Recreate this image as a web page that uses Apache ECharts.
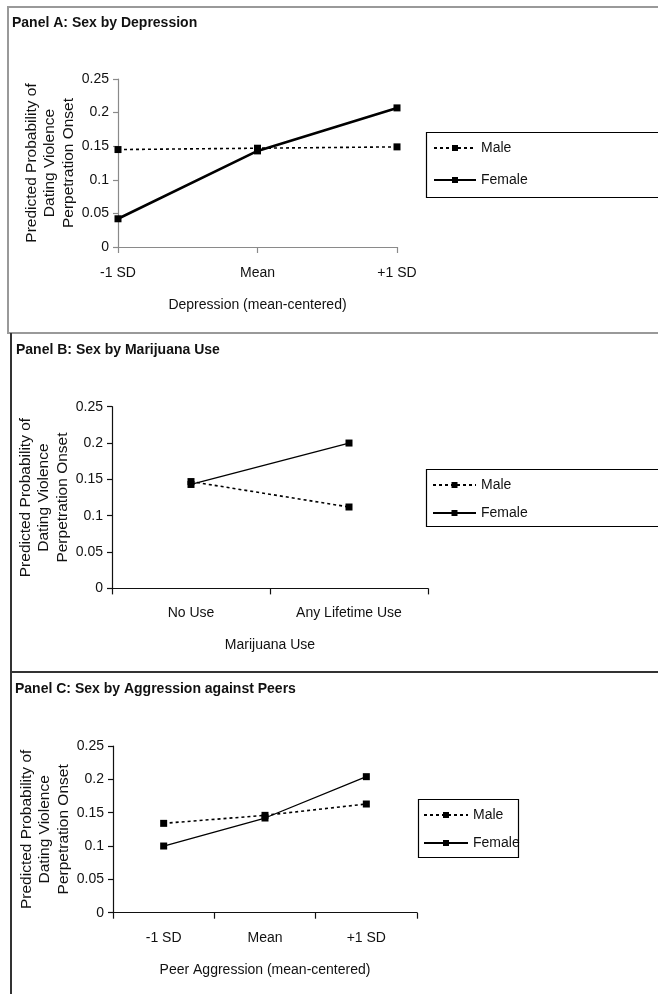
<!DOCTYPE html>
<html>
<head>
<meta charset="utf-8">
<style>
  html, body { margin: 0; padding: 0; background: #fff; }
  #chart { width: 658px; height: 994px; }
</style>
<script src="https://cdn.jsdelivr.net/npm/echarts@6/dist/echarts.min.js"></script>
</head>
<body>
<div id="chart"></div>
<script>
// ---------- data ----------
const categoriesA = ['-1 SD', 'Mean', '+1 SD'];
const maleA = [0.145, 0.147, 0.149];
const femaleA = [0.042, 0.143, 0.207];

const categoriesB = ['No Use', 'Any Lifetime Use'];
const maleB = [0.147, 0.112];
const femaleB = [0.143, 0.200];

const categoriesC = ['-1 SD', 'Mean', '+1 SD'];
const maleC = [0.134, 0.146, 0.163];
const femaleC = [0.100, 0.142, 0.204];

const yTickLabels = ['0', '0.05', '0.1', '0.15', '0.2', '0.25'];

const panelTitles = ['Panel A: Sex by Depression', 'Panel B: Sex by Marijuana Use', 'Panel C: Sex by Aggression against Peers'];
const xAxisTitles = ['Depression (mean-centered)', 'Marijuana Use', 'Peer Aggression (mean-centered)'];
const yAxisTitle = 'Predicted Probability of\nDating Violence\nPerpetration Onset';
const legendNames = ['Male', 'Female'];

// ---------- styling ----------
const FONT = "'Liberation Sans', Arial, sans-serif";
const FS = 14;

const grids = [
  { left: 118, top: 79, width: 279, height: 168 },
  { left: 112, top: 406.7, width: 316, height: 181.7 },
  { left: 113, top: 746, width: 304, height: 166.7 }
];
const axisColors = ['#8a8a8a', '#111', '#111'];
const xLabelMargins = [19, 17.7, 18.3];
const xNameGaps = [51, 49.7, 50.3];
const catSets = [categoriesA, categoriesB, categoriesC];
const boundary = [false, true, true];
const femaleWidths = [2.6, 1.3, 1.3];

const chart = echarts.init(document.getElementById('chart'), null, { renderer: 'canvas' });

const xAxes = catSets.map((cats, i) => ({
  type: 'category',
  gridIndex: i,
  data: cats,
  boundaryGap: boundary[i],
  axisLine: { show: true, lineStyle: { color: axisColors[i], width: 1.2 } },
  axisTick: { show: true, length: 6, lineStyle: { color: axisColors[i], width: 1.2 } },
  axisLabel: { color: '#111', fontFamily: FONT, fontSize: FS, lineHeight: 14, margin: xLabelMargins[i], interval: 0 },
  name: xAxisTitles[i],
  nameLocation: 'middle',
  nameGap: xNameGaps[i],
  nameTextStyle: { color: '#111', fontFamily: FONT, fontSize: FS, lineHeight: 14 },
  splitLine: { show: false }
}));

const yAxes = grids.map((g, i) => ({
  type: 'value',
  gridIndex: i,
  min: 0,
  max: 0.25,
  interval: 0.05,
  axisLine: { show: true, lineStyle: { color: axisColors[i], width: 1.2 } },
  axisTick: { show: true, length: 5, lineStyle: { color: axisColors[i], width: 1.2 } },
  axisLabel: {
    color: '#111', fontFamily: FONT, fontSize: FS, margin: 9,
    formatter: v => yTickLabels[Math.round(v / 0.05)]
  },
  splitLine: { show: false },
  name: yAxisTitle,
  nameLocation: 'middle',
  nameRotate: 90,
  nameGap: 37,
  nameTextStyle: { color: '#111', fontFamily: FONT, fontSize: 15.5, lineHeight: 18.5, align: 'center' }
}));

const maleSets = [maleA, maleB, maleC];
const femaleSets = [femaleA, femaleB, femaleC];
const panelKeys = ['A', 'B', 'C'];
const series = [];
panelKeys.forEach((k, i) => {
  series.push({
    name: k + '|' + legendNames[1],
    type: 'line',
    xAxisIndex: i, yAxisIndex: i,
    data: femaleSets[i],
    symbol: 'rect', symbolSize: 7,
    itemStyle: { color: '#000' },
    lineStyle: { color: '#000', width: femaleWidths[i], type: 'solid' },
    emphasis: { disabled: true },
    z: 2
  });
  series.push({
    name: k + '|' + legendNames[0],
    type: 'line',
    xAxisIndex: i, yAxisIndex: i,
    data: maleSets[i],
    symbol: 'rect', symbolSize: 7,
    itemStyle: { color: '#000' },
    lineStyle: { color: '#000', width: 1.6, type: [3, 3] },
    emphasis: { disabled: true },
    z: 3
  });
});

// legend item positions: [left, centerY of Male, centerY of Female, itemWidth]
const legendPos = [
  [433, 148, 180, 42],
  [432, 485, 513, 43],
  [423, 815, 843, 44]
];
const legends = [];
panelKeys.forEach((k, i) => {
  const p = legendPos[i];
  legendNames.forEach((nm, j) => {
    legends.push({
      orient: 'vertical',
      left: p[0],
      top: (j === 0 ? p[1] : p[2]) - 9,
      padding: 0,
      itemWidth: p[3],
      itemHeight: 7.5,
      itemGap: 4,
      selectedMode: false,
      data: [k + '|' + nm],
      formatter: name => name.split('|')[1],
      textStyle: { color: '#111', fontFamily: FONT, fontSize: FS, lineHeight: 18 }
    });
  });
});

const titles = panelTitles.map((t, i) => ({
  text: t,
  left: [12, 16, 15][i],
  top: [16, 343.5, 682][i],
  padding: 0,
  textStyle: { color: '#111', fontFamily: FONT, fontSize: FS, fontWeight: 'bold', lineHeight: 14 }
}));

const graphic = [
  // Panel A frame (grey)
  { type: 'polyline', shape: { points: [[658, 7], [8, 7], [8, 333], [658, 333]] }, style: { fill: null, stroke: '#999', lineWidth: 2 }, z: 10 },
  // Panel B left edge (dark)
  { type: 'line', shape: { x1: 11, y1: 333, x2: 11, y2: 672 }, style: { stroke: '#333', lineWidth: 2 }, z: 10 },
  // Panel C frame (dark)
  { type: 'polyline', shape: { points: [[658, 672], [11, 672], [11, 994]] }, style: { fill: null, stroke: '#333', lineWidth: 2 }, z: 10 },
  // Legend boxes
  { type: 'rect', shape: { x: 426.5, y: 132.5, width: 300, height: 65 }, style: { fill: null, stroke: '#000', lineWidth: 1.2 }, z: 10 },
  { type: 'rect', shape: { x: 426.5, y: 469.5, width: 300, height: 57 }, style: { fill: null, stroke: '#000', lineWidth: 1.2 }, z: 10 },
  { type: 'rect', shape: { x: 418.5, y: 799.5, width: 100, height: 58 }, style: { fill: null, stroke: '#000', lineWidth: 1.2 }, z: 10 }
];

chart.setOption({
  animation: false,
  backgroundColor: '#fff',
  title: titles,
  grid: grids,
  xAxis: xAxes,
  yAxis: yAxes,
  legend: legends,
  series: series,
  graphic: graphic
});
</script>
</body>
</html>
